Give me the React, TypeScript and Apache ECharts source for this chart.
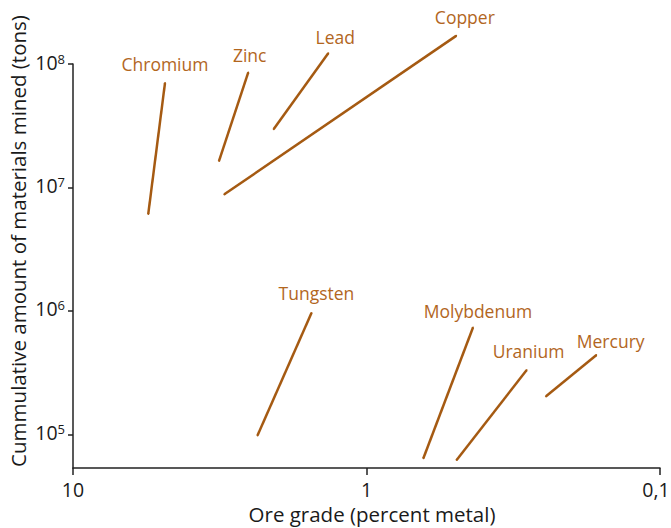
import React, { useEffect, useRef } from 'react';
import * as echarts from 'echarts';

// Each metal: a trend from richer ore / less mined (start) to leaner ore / more mined (end)
const metals = ['Chromium', 'Zinc', 'Lead', 'Copper', 'Tungsten', 'Molybdenum', 'Uranium', 'Mercury'];
const gradeStart = [5.54, 3.18, 2.07, 3.05, 2.35, 0.64, 0.493, 0.2445]; // percent metal
const gradeEnd = [4.86, 2.53, 1.35, 0.495, 1.54, 0.434, 0.285, 0.165];
const tonsStart = [6.1e6, 1.64e7, 2.97e7, 8.8e6, 9.8e4, 6.4e4, 6.2e4, 2.03e5]; // tons
const tonsEnd = [7.0e7, 8.5e7, 1.22e8, 1.69e8, 9.6e5, 7.3e5, 3.3e5, 4.37e5];

const xTickValues = [10, 1, 0.1];
const xTickLabels = ['10', '1', '0,1'];
const yTickValues = [1e5, 1e6, 1e7, 1e8];
const yTickExponents = ['5', '6', '7', '8'];
const yAxisMin = 5.33e4;
const yAxisMax = 1e8;

const labelOffsets: [number, number][] = [
  [0, -19], [1.5, -18], [7, -16.5], [8.7, -18.5], [5, -20], [5, -16.5], [2, -19], [14.5, -14.5],
];

const LINE = '#A55A12';
const LABEL = '#B2661E';
const FONT = '"Open Sans", "Noto Sans", sans-serif';

const lg = (v: number) => Math.log10(v);

export default function App() {
  const ref = useRef<HTMLDivElement>(null);
  useEffect(() => {
    if (!ref.current) return;
    const chart = echarts.init(ref.current, null, { renderer: 'svg' });
    const xLog = xTickValues.map(lg);
    const yLog = yTickValues.map(lg);
    const series = metals.map((m, i) => ({
      type: 'line',
      name: m,
      silent: true,
      clip: false,
      symbol: 'circle',
      symbolSize: 2,
      showSymbol: true,
      lineStyle: { color: LINE, width: 2.5, cap: 'butt' },
      itemStyle: { color: LINE },
      label: { show: false },
      emphasis: { disabled: true },
      data: [
        [lg(gradeStart[i]), lg(tonsStart[i])],
        {
          value: [lg(gradeEnd[i]), lg(tonsEnd[i])],
          label: {
            show: true,
            formatter: m,
            position: 'inside',
            offset: labelOffsets[i],
            color: LABEL,
            fontFamily: FONT,
            fontSize: 17.5,
          },
        },
      ],
    }));
    chart.setOption({
      animation: false,
      backgroundColor: '#ffffff',
      grid: { left: 73, right: 11, top: 64, bottom: 60, containLabel: false, outerBoundsMode: 'none' },
      xAxis: {
        type: 'value',
        inverse: true,
        min: lg(0.1),
        max: lg(10),
        interval: 1,
        splitLine: { show: false },
        axisLine: { show: true, onZero: false, lineStyle: { color: '#222', width: 1.5 } },
        axisTick: { show: true, length: 7, lineStyle: { color: '#222', width: 1.5 }, customValues: xLog },
        axisLabel: {
          customValues: xLog,
          margin: 11,
          color: '#1a1a1a',
          fontFamily: FONT,
          fontSize: 19.5,
          lineHeight: 20,
          formatter: (v: number) => {
            const idx = xLog.findIndex((t) => Math.abs(t - v) < 1e-6);
            if (idx < 0) return '';
            return idx === xLog.length - 1 ? '{r|' + xTickLabels[idx] + '}' : xTickLabels[idx];
          },
          rich: {
            r: { fontSize: 19.5, lineHeight: 20, fontFamily: FONT, color: '#1a1a1a', padding: [0, 8, 0, 0] },
          },
        },
        name: 'Ore grade (percent metal)',
        nameLocation: 'middle',
        nameGap: 35,
        nameMoveOverlap: false,
        nameTextStyle: {
          color: '#1a1a1a', fontFamily: FONT, fontSize: 20.5, lineHeight: 22, padding: [0, 0, 0, 11],
        },
      },
      yAxis: {
        type: 'value',
        min: lg(yAxisMin),
        max: lg(yAxisMax),
        splitLine: { show: false },
        axisLine: { show: true, onZero: false, lineStyle: { color: '#222', width: 1.5 } },
        axisTick: { show: true, length: 5, lineStyle: { color: '#222', width: 1.5 }, customValues: yLog },
        axisLabel: {
          customValues: yLog,
          margin: 8,
          color: '#1a1a1a',
          fontFamily: FONT,
          fontSize: 19.5,
          padding: [0, 0, 4, 0],
          formatter: (v: number) => {
            const idx = yLog.findIndex((t) => Math.abs(t - v) < 1e-6);
            return idx >= 0 ? '10{s|' + yTickExponents[idx] + '}' : '';
          },
          rich: {
            s: { fontSize: 13, verticalAlign: 'top', color: '#1a1a1a', fontFamily: FONT, lineHeight: 13 },
          },
        },
        name: 'Cummulative amount of materials mined (tons)',
        nameLocation: 'middle',
        nameGap: 45,
        nameMoveOverlap: false,
        nameTextStyle: { color: '#1a1a1a', fontFamily: FONT, fontSize: 20.5, padding: [0, 0, 0, 50] },
      },
      series,
    });
    return () => chart.dispose();
  }, []);
  return (
    <div
      ref={ref}
      style={{ position: 'fixed', left: 0, top: 0, width: 671, height: 528, background: '#fff' }}
    />
  );
}
